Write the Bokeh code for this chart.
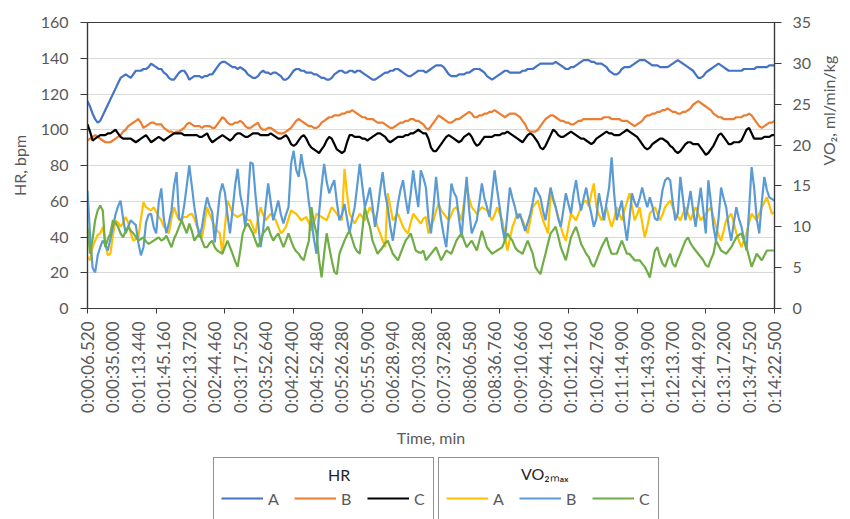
import numpy as np
from bokeh.plotting import figure
from bokeh.layouts import column
from bokeh.models import Range1d, LinearAxis, FixedTicker, Legend, LegendItem, Label
from bokeh.embed import file_html
from bokeh.resources import INLINE

TIME_LABELS = [
    "0:00:06.520", "0:00:35.000", "0:01:13.440", "0:01:45.160", "0:02:13.720",
    "0:02:44.460", "0:03:17.520", "0:03:52.640", "0:04:22.400", "0:04:52.480",
    "0:05:26.280", "0:05:55.900", "0:06:28.940", "0:07:03.280", "0:07:37.280",
    "0:08:06.580", "0:08:36.760", "0:09:10.660", "0:09:44.160", "0:10:12.160",
    "0:10:42.760", "0:11:14.900", "0:11:43.900", "0:12:13.700", "0:12:44.920",
    "0:13:17.200", "0:13:47.520", "0:14:22.500",
]
LABEL_EVERY = 10   # one time label every 10 samples
TICK_EVERY = 27    # one tick mark every 27 samples

HR_TICKS = [0, 20, 40, 60, 80, 100, 120, 140, 160]
VO2_TICKS = [0, 5, 10, 15, 20, 25, 30, 35]

HR_A = [
    116, 113, 109, 106, 104, 105, 108, 111, 114, 117,
    120, 123, 126, 129, 130, 131, 130, 129, 131, 133,
    133, 133, 134, 134, 135, 137, 136, 135, 134, 134,
    132, 131, 129, 128, 128, 130, 132, 133, 133, 131,
    128, 129, 130, 130, 130, 129, 130, 130, 131, 131,
    133, 135, 137, 138, 138, 137, 136, 135, 135, 134,
    135, 134, 133, 131, 130, 129, 129, 130, 132, 133,
    132, 132, 131, 132, 132, 131, 130, 128, 128, 129,
    131, 133, 134, 134, 133, 133, 132, 132, 132, 131,
    131, 130, 129, 129, 128, 128, 129, 131, 132, 133,
    133, 132, 132, 133, 133, 132, 133, 133, 132, 131,
    130, 129, 128, 128, 129, 130, 131, 132, 132, 133,
    133, 134, 134, 133, 132, 131, 130, 130, 131, 132,
    133, 133, 133, 132, 133, 134, 135, 136, 136, 136,
    135, 133, 131, 130, 130, 130, 131, 131, 131, 132,
    132, 133, 134, 134, 134, 133, 132, 130, 129, 128,
    129, 130, 131, 132, 133, 133, 132, 132, 132, 132,
    132, 133, 133, 134, 134, 134, 135, 136, 137, 137,
    137, 137, 137, 137, 138, 137, 136, 135, 134, 134,
    135, 135, 136, 137, 138, 139, 139, 139, 138, 138,
    137, 137, 137, 136, 135, 133, 132, 131, 131, 132,
    134, 135, 135, 135, 136, 137, 138, 139, 139, 139,
    138, 137, 136, 136, 136, 135, 135, 135, 135, 136,
    137, 138, 139, 138, 137, 136, 135, 134, 133, 131,
    129, 129, 130, 132, 133, 134, 135, 136, 137, 136,
    135, 134, 133, 133, 133, 133, 133, 133, 134, 134,
    134, 134, 134, 135, 135, 135, 135, 135, 136, 136, 136,
]

HR_B = [
    94, 95, 96, 97, 96, 95, 94, 93, 93, 93,
    94, 95, 96, 97, 99, 100, 102, 103, 104, 105,
    106, 104, 101, 102, 103, 104, 104, 103, 103, 103,
    101, 100, 99, 99, 98, 99, 99, 100, 101, 103,
    104, 103, 102, 102, 102, 101, 102, 102, 102, 101,
    101, 103, 105, 107, 106, 104, 103, 103, 104, 104,
    105, 104, 102, 101, 101, 102, 103, 104, 101, 100,
    100, 101, 101, 100, 99, 98, 98, 98, 99, 100,
    101, 103, 105, 106, 105, 104, 103, 102, 102, 101,
    101, 102, 104, 105, 106, 107, 107, 108, 108, 108,
    109, 109, 110, 110, 111, 110, 109, 108, 107, 107,
    106, 106, 106, 105, 104, 104, 104, 103, 102, 101,
    101, 102, 103, 104, 104, 105, 105, 106, 106, 105,
    105, 104, 103, 101, 100, 102, 104, 106, 108, 107,
    106, 105, 104, 104, 105, 106, 106, 107, 108, 109,
    110, 109, 107, 107, 108, 108, 109, 109, 110, 110,
    111, 110, 109, 108, 107, 108, 109, 109, 109, 108,
    107, 105, 103, 100, 99, 99, 99, 100, 102, 104,
    106, 107, 108, 108, 107, 106, 105, 105, 104, 104,
    103, 103, 104, 105, 105, 106, 106, 106, 106, 106,
    106, 106, 106, 107, 107, 107, 106, 106, 106, 106,
    105, 105, 105, 104, 103, 102, 103, 104, 105, 107,
    108, 108, 109, 109, 110, 110, 111, 111, 112, 111,
    110, 110, 109, 109, 110, 110, 111, 112, 114, 115,
    116, 115, 114, 113, 112, 111, 109, 108, 107, 107,
    106, 106, 106, 106, 106, 107, 107, 107, 108, 108,
    109, 108, 106, 104, 102, 101, 102, 103, 104, 104, 105,
]

HR_C = [
    103, 99, 94, 95, 96, 97, 97, 97, 98, 98,
    99, 100, 98, 96, 95, 95, 95, 95, 94, 93,
    94, 95, 96, 97, 95, 93, 94, 95, 96, 95,
    94, 95, 96, 97, 98, 98, 98, 98, 97, 97,
    97, 97, 97, 97, 96, 96, 97, 98, 95, 93,
    94, 95, 96, 97, 96, 95, 94, 95, 97, 98,
    98, 97, 96, 96, 97, 98, 98, 98, 97, 97,
    97, 97, 98, 97, 96, 95, 95, 96, 97, 95,
    92, 91, 92, 94, 96, 97, 95, 92, 90, 89,
    88, 87, 89, 91, 94, 96, 95, 92, 89, 88,
    87, 88, 93, 97, 97, 96, 96, 96, 95, 95,
    94, 95, 96, 97, 98, 98, 97, 96, 94, 93,
    94, 95, 96, 96, 96, 97, 97, 98, 98, 99,
    100, 99, 98, 98, 95, 90, 88, 88, 90, 92,
    94, 96, 97, 96, 95, 94, 93, 94, 96, 97,
    98, 96, 93, 91, 92, 94, 96, 96, 96, 96,
    97, 97, 97, 98, 98, 99, 98, 97, 96, 95,
    94, 93, 95, 97, 98, 97, 95, 93, 90, 89,
    91, 94, 97, 100, 99, 97, 96, 96, 97, 98,
    99, 98, 97, 96, 95, 95, 94, 93, 92, 93,
    95, 96, 97, 98, 99, 98, 98, 97, 97, 97,
    98, 99, 100, 99, 98, 97, 96, 94, 92, 90,
    89, 90, 92, 93, 94, 95, 95, 94, 93, 91,
    90, 88, 87, 88, 90, 92, 93, 93, 92, 92,
    92, 90, 88, 86, 87, 89, 91, 94, 97, 98,
    96, 94, 92, 92, 93, 93, 93, 94, 97, 100,
    101, 98, 95, 95, 95, 95, 96, 96, 96, 97, 97,
]

VO2_A = [
    6.3, 5.9, 7.5, 8.3, 9, 9.2, 10, 8, 6.5, 6.7,
    9, 10.8, 10.5, 10, 10.5, 11.2, 10.5, 9.2, 8.3, 8.5,
    8.7, 11, 13, 12.4, 12.2, 12, 12.4, 11.8, 11.2, 10.8,
    10, 9.8, 9.2, 11, 12.4, 11.5, 10.8, 11, 11.2, 11.2,
    11.5, 11.6, 11, 10, 9.5, 8.7, 10.5, 12.4, 11.5, 10.8,
    10, 9.5, 9.2, 6.7, 10, 13.2, 12.5, 11.6, 11.4, 11.2,
    11.4, 11.6, 11.2, 10.8, 10.8, 10, 9.2, 11, 12.4, 11.5,
    10.8, 11.2, 11.6, 11.2, 10.8, 10, 9.2, 9.5, 10, 11,
    12, 11.8, 11.6, 11.2, 10.8, 11, 11.2, 10.5, 9.5, 10.5,
    11.6, 11.4, 11.2, 11, 10.8, 11.6, 12.4, 12, 11.6, 11.2,
    10.8, 17.1, 14, 11.6, 11, 10.4, 11, 11.6, 11.2, 10.8,
    11.6, 12.4, 11.8, 11.2, 10, 9.2, 8.3, 7.5, 14.1, 12.5,
    10.8, 11.2, 11.6, 10.8, 10, 9.5, 9.2, 10.5, 11.6, 11.2,
    10.8, 10.4, 11, 11.2, 9.2, 10, 10.8, 12, 12.8, 12,
    11.6, 11.2, 10.8, 11.5, 12.2, 12.4, 11.6, 10.8, 13, 15.3,
    13.5, 12.4, 12, 11.6, 12, 12.4, 12.2, 12, 11.4, 10.8,
    11.5, 12.4, 11.6, 10.8, 9, 7.1, 8.5, 10, 10.8, 11.6,
    11.2, 10.8, 10, 9.2, 10.8, 12.4, 12.8, 13.2, 12, 10.8,
    10, 9.2, 14.1, 13.2, 12.4, 11.2, 10, 9, 8.3, 10,
    11.6, 11.2, 10.8, 11.6, 12.4, 13, 13.2, 12.5, 14, 15.3,
    12.4, 11.5, 10.8, 11.5, 12.4, 11, 10, 11, 12.4, 11.6,
    10.8, 12, 13, 14.1, 12.5, 10.8, 11.5, 12.4, 10.5, 8.7,
    10, 11.6, 12, 12.4, 11.6, 10.8, 11.5, 12.4, 12.8, 13.2,
    12.4, 11.6, 11.2, 10.8, 11.6, 12.4, 11.6, 10.8, 11.6, 12.4,
    11.6, 10.8, 11.2, 11.6, 12, 12.4, 11.2, 10, 9, 8.3,
    9.5, 10.8, 11.2, 11.6, 10.5, 9.2, 8.3, 7.5, 8.3, 9.2,
    10.5, 11.6, 11.2, 10.8, 11.6, 12.4, 13, 13.6, 12.6, 11.6, 11.8,
]

VO2_B = [
    14.4, 9, 5, 4.4, 6.5, 7.5, 8.3, 7.8, 7.1, 8.5,
    10, 11.5, 12.5, 13.2, 11, 9.2, 10, 10.8, 10.5, 10.2,
    8, 6.5, 7.5, 10.5, 11.5, 11.6, 10, 9.2, 13, 14.7,
    11, 9.2, 10.5, 12, 15, 16.7, 11, 10.8, 12.6, 15,
    17.5, 15, 12.4, 10.5, 8.7, 10, 12, 13.6, 12.5, 11.8,
    8.1, 11, 14, 15.3, 14.2, 11.5, 9.2, 12, 15, 17.1,
    14, 12.4, 10, 13, 17.9, 17.7, 14, 10.8, 7.5, 9.5,
    12.5, 15.3, 13, 10.8, 12, 13.2, 11.5, 10.4, 11.5, 12.4,
    17.7, 19.3, 17, 16.1, 18.9, 17, 15.7, 13, 10.8, 8.5,
    6.7, 11.6, 15, 17.7, 15.5, 14.1, 15, 15.7, 13, 10.8,
    11.5, 12.8, 11, 9.2, 11, 12.4, 15, 17.7, 15, 12.4,
    13.5, 14.8, 12.5, 10, 12, 14.5, 16.7, 14, 12.4, 10,
    8.3, 10.5, 12.8, 14.5, 15.7, 13.5, 11.6, 14, 16.9, 14.5,
    12.4, 16.9, 16, 14.8, 11, 9.2, 12.5, 16.1, 13, 10.8,
    9, 7.5, 11, 15.3, 14.2, 13.6, 11, 8.7, 12.5, 16.1,
    12, 9.2, 10, 10.8, 13, 15.3, 13.5, 12.4, 11.2, 14,
    16.9, 14.5, 12.4, 10, 8.3, 11.5, 14.8, 13.5, 12.4, 11,
    11.6, 10.5, 9.5, 10.5, 11.6, 13, 14.8, 14.2, 13.6, 12,
    10.8, 12.8, 14.8, 13.5, 12.4, 11, 10, 12, 14.1, 12.8,
    11.6, 14, 15.7, 13.5, 12, 13.5, 14.8, 13, 11.6, 10,
    11, 14.1, 12.5, 10.8, 13, 14.8, 18.5, 14, 10.8, 12,
    13.2, 10.5, 8.3, 11, 14.1, 13, 12.4, 13.5, 14.8, 13.5,
    12.4, 13.6, 12.5, 11, 10.8, 12.4, 14.5, 15.7, 16, 15.7,
    13, 10.8, 11.6, 16.1, 13.5, 10.8, 12.5, 14.4, 12, 10,
    12.5, 14.8, 12, 9.2, 15.7, 13, 10, 8.3, 11, 14.8,
    13.5, 12.4, 10, 8.3, 10.5, 12.4, 11, 10, 8.5, 7.1,
    12, 17.3, 14.8, 11, 9.2, 13, 16.1, 14.5, 13.6, 13.4, 13.2,
]

VO2_C = [
    10, 6.7, 8.5, 10.8, 12, 12.6, 12, 7.5, 8.5, 9.2,
    10.8, 10.5, 10, 9.2, 8.7, 9.5, 10, 9.5, 9.2, 8.8,
    8.3, 8.5, 8.7, 8.2, 7.9, 8.1, 8.3, 8.5, 8.7, 8.3,
    8.5, 8.9, 8.2, 7.5, 8.5, 9.2, 10, 10.8, 10, 9.2,
    10.4, 9.5, 8.3, 8.8, 9.2, 8.3, 7.5, 7.5, 8, 8.3,
    7.5, 7.1, 6.9, 6.7, 7.5, 8.3, 7.5, 6.7, 5.8, 5.1,
    7, 9.2, 10, 10.4, 9.8, 9.2, 8.3, 7.5, 8.3, 9.2,
    9.6, 10, 9, 8.3, 8.8, 9.2, 8.3, 7.5, 8.3, 9.2,
    8.3, 7.5, 7, 6.7, 6.2, 5.9, 7.2, 8.3, 12.4, 10.5,
    9.2, 6, 3.8, 6.7, 9.2, 7.5, 5.9, 4.5, 4.2, 6.7,
    7.5, 8.3, 9, 9.5, 8.5, 7.5, 7, 6.7, 9.5, 12.4,
    11, 10, 8.3, 7.5, 6.7, 7.1, 7.5, 8, 8.3, 7.5,
    6.7, 6.3, 5.9, 6.7, 7.5, 8.3, 8.7, 9.2, 8.2, 7.1,
    6.9, 6.8, 7.1, 5.9, 6.3, 6.7, 7.1, 7.5, 6.7, 5.9,
    6.5, 7.1, 6.9, 6.7, 7.5, 8.3, 8.8, 9.2, 8.3, 7.5,
    7.9, 8.3, 7.7, 7.1, 8.3, 9.5, 8.5, 7.5, 7.1, 6.7,
    6.9, 7.1, 7.3, 7.5, 8.3, 9.2, 8.7, 8.3, 7.5, 7.1,
    6.9, 6.7, 7.5, 8.3, 7.5, 6.7, 5.1, 4.6, 4.2, 5.5,
    6.7, 8, 9.2, 9.6, 10, 8.8, 7.5, 6.7, 5.9, 7.3,
    8.7, 9.4, 10, 9, 7.9, 7.3, 6.7, 6.3, 5.5, 5.1,
    5.9, 6.7, 7.5, 8.1, 8.7, 7.5, 6.7, 6.7, 6.7, 7.5,
    8.3, 7.5, 6.7, 6.7, 6.3, 5.9, 5.9, 5.9, 5.5, 5.1,
    4.5, 3.8, 5.5, 7.1, 7.5, 6.3, 5.5, 5.1, 6, 6.7,
    5.5, 5.1, 6, 6.7, 7.5, 8.3, 8.7, 8, 7.5, 7.1,
    6.7, 6.3, 5.9, 5.3, 5.1, 6, 6.7, 8.3, 7.7, 7.1,
    6.9, 6.7, 7.1, 7.5, 8.1, 8.7, 9, 9.2, 8.3, 7.5,
    6.3, 5.1, 5.9, 6.7, 6.3, 5.9, 6.5, 7.1, 7.1, 7.1, 7.1,
]

SERIES_NAMES = ["A", "B", "C"]
HR_COLORS = ["#4472C4", "#ED7D31", "#000000"]
VO2_COLORS = ["#FFC000", "#5B9BD5", "#70AD47"]

FONT = "Lato"
TXT = "#595959"
AX = "#3a3a3a"

n = len(HR_A)
x = list(range(n))

# ---------------- main chart ----------------
p = figure(width=850, height=450, output_backend="svg", toolbar_location=None,
           x_range=Range1d(0, n - 1), y_range=Range1d(HR_TICKS[0], HR_TICKS[-1]),
           min_border_left=87, min_border_right=72, min_border_top=22,
           min_border_bottom=142)
p.extra_y_ranges = {"vo2": Range1d(VO2_TICKS[0], VO2_TICKS[-1])}
p.background_fill_color = "white"
p.border_fill_color = "white"
p.outline_line_color = AX
p.outline_line_width = 1.2
p.xgrid.visible = False
p.ygrid.grid_line_color = "#d9d9d9"
p.ygrid.grid_line_width = 1

xa = p.xaxis[0]
xa.ticker = FixedTicker(ticks=list(range(0, n, LABEL_EVERY)),
                        minor_ticks=list(range(0, n, TICK_EVERY)))
xa.major_label_overrides = {i * LABEL_EVERY: lab for i, lab in enumerate(TIME_LABELS)}
xa.major_label_orientation = np.pi / 2
xa.major_tick_line_color = None
xa.major_tick_out = 5
xa.major_tick_in = 0
xa.minor_tick_line_color = AX
xa.minor_tick_out = 5
xa.minor_tick_in = 0
xa.major_label_standoff = 8
xa.axis_label = "Time, min"
xa.axis_label_standoff = 12

ya = p.yaxis[0]
ya.ticker = FixedTicker(ticks=HR_TICKS)
ya.axis_label = "HR, bpm"
ya.major_label_standoff = 12
ya.axis_label_standoff = 9

yr = LinearAxis(y_range_name="vo2", ticker=FixedTicker(ticks=VO2_TICKS))
yr.axis_label = "VO\u2082, ml/min/kg"
yr.axis_label_orientation = np.pi / 2
yr.major_label_standoff = 11
yr.axis_label_standoff = 14
p.add_layout(yr, "right")

for ax in (xa, ya, yr):
    ax.axis_line_color = AX
    ax.axis_line_width = 1.2
    ax.major_label_text_font = FONT
    ax.major_label_text_font_size = "16px"
    ax.major_label_text_color = TXT
    ax.axis_label_text_font = FONT
    ax.axis_label_text_font_size = "16px"
    ax.axis_label_text_color = TXT
    ax.axis_label_text_font_style = "normal"
xa.major_label_text_font_size = "17px"
for ax in (ya, yr):
    ax.major_tick_line_color = AX
    ax.major_tick_out = 7
    ax.major_tick_in = 0
    ax.minor_tick_line_color = None

for vals, col in zip([HR_A, HR_B, HR_C], HR_COLORS):
    p.line(x, vals, line_color=col, line_width=2.2)
for vals, col in zip([VO2_A, VO2_B, VO2_C], VO2_COLORS):
    p.line(x, vals, line_color=col, line_width=2.2, y_range_name="vo2")

# ---------------- legend strip ----------------
# Strip frame spans the same 691 px as the chart frame; its main ranges are in
# pixels so the titles can be placed; the swatch series sit on an out-of-view range.
q = figure(width=850, height=69, output_backend="svg", toolbar_location=None,
           x_range=Range1d(0, 691), y_range=Range1d(0, 69),
           x_axis_type=None, y_axis_type=None, min_border=0)
q.extra_y_ranges = {"hidden": Range1d(-1, 0)}
q.xgrid.visible = False
q.ygrid.visible = False
q.outline_line_color = None
q.background_fill_color = "white"
q.border_fill_color = "white"

hr_r = [q.line(x, vals, line_color=c, line_width=2.2, y_range_name="hidden")
        for vals, c in zip([HR_A, HR_B, HR_C], HR_COLORS)]
vo_r = [q.line(x, vals, line_color=c, line_width=2.2, y_range_name="hidden")
        for vals, c in zip([VO2_A, VO2_B, VO2_C], VO2_COLORS)]


def make_legend(renderers, loc):
    return Legend(items=[LegendItem(label=nm, renderers=[r]) for nm, r in zip(SERIES_NAMES, renderers)],
                  orientation="horizontal", location=loc, title="T",
                  title_text_alpha=0, title_text_font=FONT, title_text_font_size="10px",
                  title_standoff=0, label_text_font=FONT, label_text_font_size="16px",
                  label_text_color=TXT, glyph_width=42, glyph_height=42, label_standoff=5,
                  label_width=12, label_height=42, spacing=14, padding=7, margin=0,
                  border_line_color="#262626", border_line_width=1.5,
                  background_fill_alpha=0)


q.add_layout(make_legend(hr_r, (126, -8)), "center")
q.add_layout(make_legend(vo_r, (351, -8)), "center")

q.add_layout(Label(x=253, y=45, text="HR",
                   text_align="center", text_baseline="middle", text_font=FONT,
                   text_font_size="16px", text_color="#262626", level="overlay"))
q.add_layout(Label(x=460, y=46, text="VO\u2082\u2098\u2090\u2093",
                   text_align="center", text_baseline="middle", text_font=FONT,
                   text_font_size="16px", text_color="#262626", level="overlay"))

layout = column(p, q, spacing=0)
open("out.html", "w").write(file_html(layout, INLINE))
